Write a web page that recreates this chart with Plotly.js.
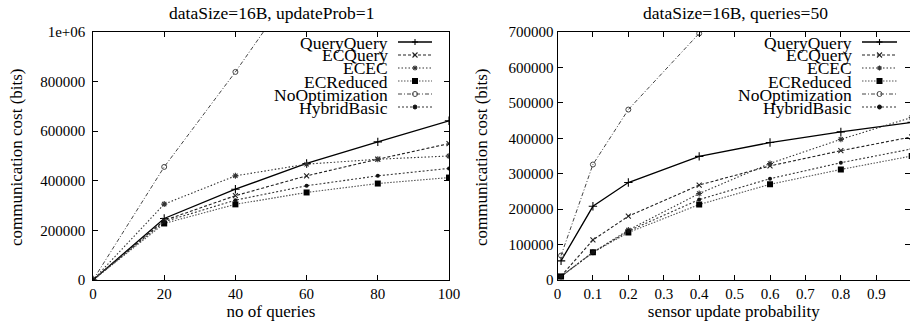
<!DOCTYPE html>
<html><head><meta charset="utf-8">
<script src="https://cdn.plot.ly/plotly-3.0.1.min.js"></script>
<style>html,body{margin:0;padding:0;background:#fff}</style>
</head><body><div id="chart" style="width:910px;height:324px"></div>
<script>
// ---------- data ----------
const seriesNames = ["QueryQuery","ECQuery","ECEC","ECReduced","NoOptimization","HybridBasic"];

const xQueries = [0,20,40,60,80,100];
const qQueryQuery     = [0,248000,366000,470000,557000,642000];
const qECQuery        = [0,240000,340000,420000,487000,550000];
const qECEC           = [0,306000,420000,467000,487000,500000];
const qECReduced      = [0,228000,305000,353000,389000,413000];
const qNoOptimization = [0,456000,839000,1250000,1660000,2070000];
const qHybridBasic    = [0,235000,322000,380000,420000,450000];

const xProb = [0.01,0.1,0.2,0.4,0.6,0.8,1.0];
const pQueryQuery     = [54000,208000,275000,349000,388000,418000,445000];
const pECQuery        = [11000,113000,180000,268000,322000,365000,404000];
const pECEC           = [10000,78000,141000,244000,329000,397000,459000];
const pECReduced      = [10000,78000,134000,213000,270000,312000,350000];
const pNoOptimization = [69000,326000,481000,696000,900000,1100000,1300000];
const pHybridBasic    = [10000,78000,138000,227000,286000,331000,370000];

const leftYTickVals = [0,200000,400000,600000,800000,1000000];
const leftYTickText = ["0","200000","400000","600000","800000","1e+06"];

// ---------- styles ----------
const W = 910, H = 324;
const FONT = "Liberation Serif";
const styles = [
  {color:"#000", dash:"solid",          width:1.3, symbol:"cross-thin-open",  size:6, mline:1.1},
  {color:"#222", dash:"3px,2px",        width:1.1, symbol:"x-thin-open",      size:5, mline:1.1},
  {color:"#333", dash:"1.5px,2px",      width:1.1, symbol:"asterisk-open",    size:5, mline:1.1},
  {color:"#555", dash:"1.5px,1.5px",    width:1.1, symbol:"square",           size:6, mline:0},
  {color:"#444", dash:"4px,2px,1px,2px",width:1.0, symbol:"circle-open",      size:5, mline:1},
  {color:"#333", dash:"2px,2px",        width:1.1, symbol:"circle",           size:4, mline:0}
];
const markerColor = ["#000","#222","#333","#000","#444","#111"];
const leftVals  = [qQueryQuery,qECQuery,qECEC,qECReduced,qNoOptimization,qHybridBasic];
const rightVals = [pQueryQuery,pECQuery,pECEC,pECReduced,pNoOptimization,pHybridBasic];

const traces = [];
seriesNames.forEach((n,i)=>{
  const s = styles[i];
  const mk = {symbol:s.symbol,size:s.size,color:markerColor[i],line:{color:markerColor[i],width:s.mline}};
  traces.push({x:xQueries,y:leftVals[i],name:n,type:"scatter",mode:"lines+markers",
    xaxis:"x",yaxis:"y",line:{color:s.color,dash:s.dash,width:s.width},marker:mk,showlegend:false});
  traces.push({x:xProb,y:rightVals[i],name:n,type:"scatter",mode:"lines+markers",
    xaxis:"x2",yaxis:"y2",line:{color:s.color,dash:s.dash,width:s.width},marker:mk,showlegend:false});
});

// pixel -> paper helpers (layout positions only)
const px = v => v/W, py = v => 1 - v/H;

const axisBase = {
  showline:true, linecolor:"#000", linewidth:1, mirror:"allticks",
  ticks:"inside", ticklen:5, tickcolor:"#000", tickwidth:1,
  showgrid:false, zeroline:false,
  tickfont:{family:FONT,size:15,color:"#000"}
};
const axTitleFont = {family:FONT,size:17,color:"#000"};
const headFont = {family:FONT,size:17.5,color:"#000"};
const legFont = {family:FONT,size:17.5,color:"#000"};

const layout = {
  width:W, height:H, margin:{l:0,r:0,t:0,b:0},
  paper_bgcolor:"#fff", plot_bgcolor:"#fff", showlegend:false,
  font:{family:FONT,size:15,color:"#000"},
  xaxis:Object.assign({}, axisBase, {domain:[px(93),px(449)], range:[0,100], dtick:20, tick0:0,
    anchor:"y", title:{text:"no of queries", font:axTitleFont, standoff:2}}),
  yaxis:Object.assign({}, axisBase, {domain:[py(280),py(32)], range:[0,1000000],
    tickmode:"array", tickvals:leftYTickVals,
    ticktext:leftYTickText.map(t => t + "\u00a0"), anchor:"x"}),
  xaxis2:Object.assign({}, axisBase, {domain:[px(557.5),1], range:[0,0.9952], dtick:0.1, tick0:0,
    anchor:"y2", title:{text:"sensor update probability", font:axTitleFont, standoff:2}}),
  yaxis2:Object.assign({}, axisBase, {domain:[py(280),py(32)], range:[0,700000], dtick:100000,
    tickformat:"d", anchor:"x2"}),
  annotations:[], shapes:[]
};

// y-axis titles
layout.annotations.push({text:"communication cost (bits)", xref:"paper", yref:"paper",
  x:px(17), y:py(157), xanchor:"center", yanchor:"middle", textangle:-90, showarrow:false, font:axTitleFont});
layout.annotations.push({text:"communication cost (bits)", xref:"paper", yref:"paper",
  x:px(482), y:py(157), xanchor:"center", yanchor:"middle", textangle:-90, showarrow:false, font:axTitleFont});

// subplot titles
layout.annotations.push({text:"dataSize=16B, updateProb=1", xref:"paper", yref:"paper",
  x:px(271), y:py(13), xanchor:"center", yanchor:"middle", showarrow:false, font:headFont});
layout.annotations.push({text:"dataSize=16B, queries=50", xref:"paper", yref:"paper",
  x:px(735), y:py(13), xanchor:"center", yanchor:"middle", showarrow:false, font:headFont});

// gnuplot-style legends (text left of sample)
function addLegend(textRight, sx0, sx1, y0, step){
  seriesNames.forEach((n,i)=>{
    const s = styles[i];
    const y = y0 + i*step;
    layout.annotations.push({text:n, xref:"paper", yref:"paper", x:px(textRight), y:py(y+0.5),
      xanchor:"right", yanchor:"middle", showarrow:false, font:legFont, borderpad:0});
    layout.shapes.push({type:"line", xref:"paper", yref:"paper", x0:px(sx0), x1:px(sx1), y0:py(y), y1:py(y),
      line:{color:s.color, width:s.width, dash:s.dash}});
    const cx = (sx0+sx1)/2, r = s.size/2, mc = markerColor[i];
    const L = (a,b,c,d)=>layout.shapes.push({type:"line",xref:"paper",yref:"paper",
      x0:px(a),y0:py(b),x1:px(c),y1:py(d),line:{color:mc,width:1.1}});
    if (s.symbol==="cross-thin-open"){ L(cx-r,y,cx+r,y); L(cx,y-r,cx,y+r); }
    else if (s.symbol==="x-thin-open"){ L(cx-r,y-r,cx+r,y+r); L(cx-r,y+r,cx+r,y-r); }
    else if (s.symbol==="asterisk-open"){ L(cx-r,y,cx+r,y); L(cx,y-r,cx,y+r); L(cx-r*0.7,y-r*0.7,cx+r*0.7,y+r*0.7); L(cx-r*0.7,y+r*0.7,cx+r*0.7,y-r*0.7); }
    else if (s.symbol==="square"){ layout.shapes.push({type:"rect",xref:"paper",yref:"paper",
      x0:px(cx-r),x1:px(cx+r),y0:py(y-r),y1:py(y+r),fillcolor:mc,line:{width:0}}); }
    else { layout.shapes.push({type:"circle",xref:"paper",yref:"paper",
      x0:px(cx-r),x1:px(cx+r),y0:py(y-r),y1:py(y+r),
      fillcolor:(s.symbol==="circle"?mc:"rgba(0,0,0,0)"),line:{color:mc,width:1}}); }
  });
}
addLegend(389, 398, 432, 42, 13);
addLegend(853, 862, 897, 42, 13);

Plotly.newPlot("chart", traces, layout, {staticPlot:true, displayModeBar:false});
</script></body></html>
